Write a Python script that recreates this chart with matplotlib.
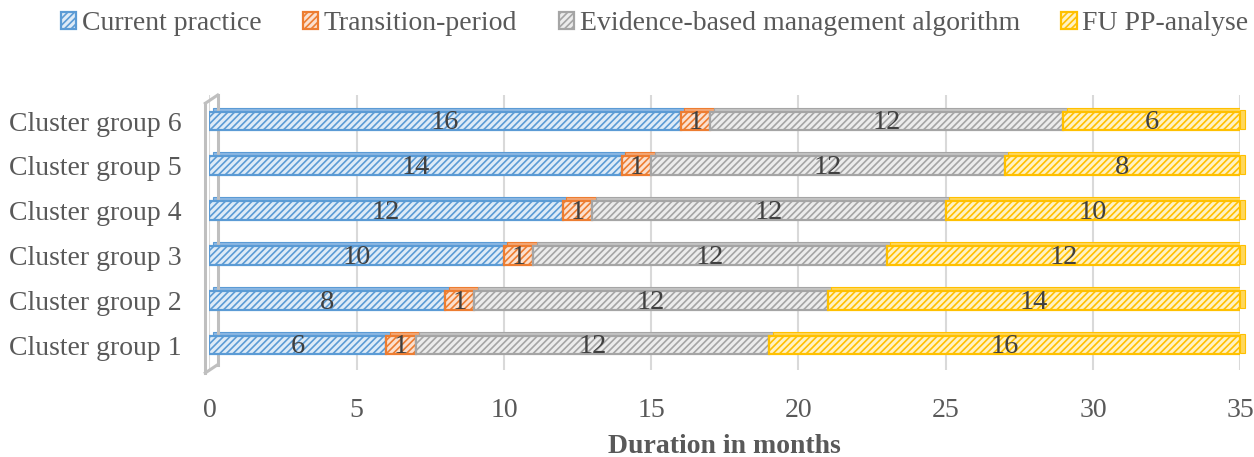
import numpy as np
import matplotlib.pyplot as plt
from matplotlib.lines import Line2D

plt.rcParams['font.family'] = ['Liberation Serif', 'DejaVu Serif']
plt.rcParams['hatch.linewidth'] = 1.2

groups = ["Cluster group 1", "Cluster group 2", "Cluster group 3",
          "Cluster group 4", "Cluster group 5", "Cluster group 6"]
series = ["Current practice", "Transition-period",
          "Evidence-based management algorithm", "FU PP-analyse"]
current = [6, 8, 10, 12, 14, 16]
transition = [1, 1, 1, 1, 1, 1]
algorithm = [12, 12, 12, 12, 12, 12]
fu_pp = [16, 14, 12, 10, 8, 6]

edge_cols = ["#5B9BD5", "#ED7D31", "#A5A5A5", "#FFC000"]
face_cols = ["#deebf7", "#fbe0cf", "#ececec", "#fff2c4"]
top_cols = ["#8db8e3", "#f3a877", "#c4c4c4", "#ffd75c"]

fig = plt.figure(figsize=(12.54, 4.57), dpi=100)
ax = fig.add_axes([0.167, 0.19, 0.822, 0.602])

y = np.arange(len(groups))
h = 0.42
left = np.zeros(len(groups))
handles = []
for vals, ec, fc, tc, name in zip([current, transition, algorithm, fu_pp],
                                  edge_cols, face_cols, top_cols, series):
    vals = np.array(vals, dtype=float)
    # depth strip (top face)
    ax.barh(y + h / 2 + 0.04, vals, left=left + 0.12, height=0.1,
            color=tc, edgecolor=ec, linewidth=0.8, zorder=2)
    b = ax.barh(y, vals, left=left, height=h, color=fc, edgecolor=ec,
                hatch='/////', linewidth=1.6, zorder=3, label=name)
    handles.append(b)
    for yi, l, v in zip(y, left, vals):
        ax.text(l + v / 2, yi - 0.04, f"{v:g}", ha='center', va='center',
                fontsize=20.5, color='#404040', zorder=5)
    left = left + vals

# right end caps
ax.barh(y + 0.03, 0.15, left=left, height=h, color=top_cols[3],
        edgecolor=edge_cols[3], linewidth=0.8, zorder=2, clip_on=False)

ax.set_xlim(0, 35)
ax.set_ylim(-0.56, 5.58)
ax.set_xticks(np.arange(0, 36, 5))
ax.set_yticks(y)
ax.set_yticklabels(groups)
ax.tick_params(axis='both', length=0, labelsize=20, colors='#595959')
ax.tick_params(axis='x', pad=20)
ax.tick_params(axis='y', pad=20)
ax.grid(axis='x', color='#d9d9d9', linewidth=1.5, zorder=0)
ax.set_axisbelow(True)
for s in ['top', 'right', 'bottom', 'left']:
    ax.spines[s].set_visible(False)

# side wall of the 3D chart
wall = dict(color='#bfbfbf', linewidth=2.2, transform=ax.transAxes, clip_on=False)
ax.add_line(Line2D([-0.004, -0.004], [-0.01, 0.97], **wall))
ax.add_line(Line2D([0.008, 0.008], [0.02, 1.0], **wall))
ax.add_line(Line2D([-0.004, 0.008], [0.97, 1.0], **wall))
ax.add_line(Line2D([-0.004, 0.008], [-0.01, 0.02], **wall))

ax.set_xlabel("Duration in months", fontsize=20, fontweight='bold',
              color='#595959', labelpad=8)

fig.legend(handles=handles, labels=series, loc='upper center',
           bbox_to_anchor=(0.522, 1.03), ncol=4, frameon=False, fontsize=20,
           handlelength=0.55, handleheight=0.55, handletextpad=0.2,
           columnspacing=1.5, labelcolor='#595959')

fig.savefig("out.png", dpi=100)
